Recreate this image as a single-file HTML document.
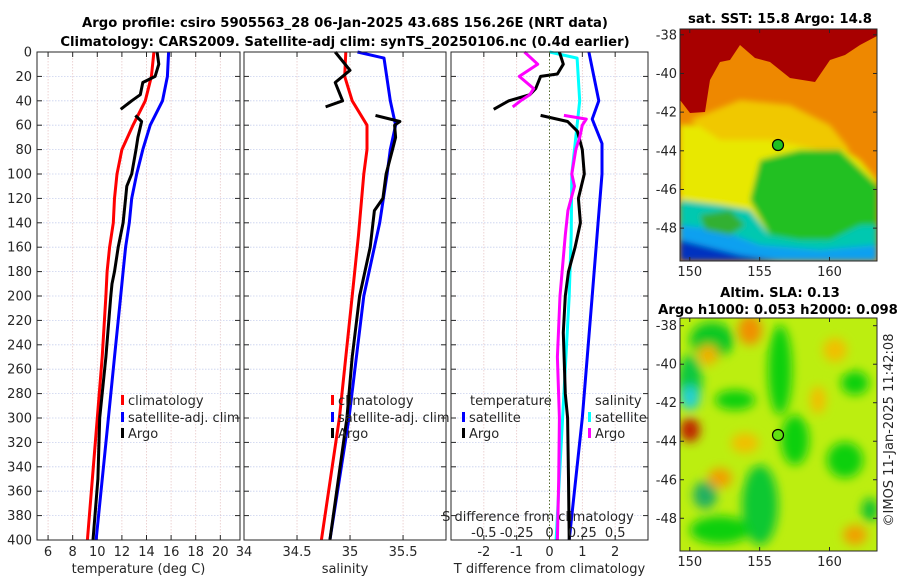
<!DOCTYPE html>
<html><head><meta charset="utf-8"><style>
body{margin:0;background:#fff;}
svg{display:block;font-family:"DejaVu Sans","Liberation Sans",sans-serif;}
.tk{font-size:13px;fill:#262626;}
.tt{font-size:13.2px;font-weight:bold;fill:#000;}
</style></head><body>
<svg id="chart" width="900" height="580" viewBox="0 0 900 580">
<defs>
<filter id="bl" x="-20%" y="-20%" width="140%" height="140%"><feGaussianBlur stdDeviation="3"/></filter>
<filter id="bl2" x="-30%" y="-30%" width="160%" height="160%"><feGaussianBlur stdDeviation="5"/></filter>
<clipPath id="c1"><rect x="680" y="29" width="197" height="232"/></clipPath>
<clipPath id="c2"><rect x="680" y="318" width="197" height="233"/></clipPath>
</defs>
<text class="tt" x="345" y="27" text-anchor="middle">Argo profile: csiro 5905563_28 06-Jan-2025 43.68S 156.26E (NRT data)</text>
<text class="tt" x="345" y="46" text-anchor="middle">Climatology: CARS2009. Satellite-adj clim: synTS_20250106.nc (0.4d earlier)</text>
<g id="panels"></g>
<g id="maps">
 <g clip-path="url(#c1)">
  <rect x="680" y="29" width="197" height="232" fill="#ee8800"/>
  <g filter="url(#bl)">
  <polygon fill="#e8e800" points="680,125 720,125 760,118 800,120 830,140 860,160 877,180 877,261 680,261"/>
  <polygon fill="#f0c800" points="690,120 740,100 790,105 830,125 850,150 820,150 770,140 720,140"/>
  <polygon fill="#20c020" points="760,160 800,150 840,150 877,185 877,230 850,240 810,245 770,235 750,200"/>
  <polygon fill="#00c8b0" points="680,200 720,205 750,210 770,235 800,240 830,240 860,225 877,225 877,261 680,261"/>
  <polygon fill="#10a0f0" points="680,225 720,230 760,245 820,250 877,245 877,261 680,261"/>
  <polygon fill="#0030c0" points="680,240 700,245 740,255 780,261 680,261"/>
  <polygon fill="#30b030" points="700,215 730,210 745,225 730,235 705,230"/>
  </g>
  <polygon fill="#a80000" points="680,29 877,29 877,36 860,45 845,55 830,60 815,82 790,78 770,62 755,58 740,45 730,60 720,62 710,80 705,112 690,113 680,100"/>
 </g>
 <rect x="680" y="29" width="197" height="232" fill="none" stroke="#262626" stroke-width="1"/>
 <circle cx="778" cy="145" r="5.5" fill="#20c020" stroke="#000" stroke-width="1.2"/>
 <g clip-path="url(#c2)">
  <rect x="680" y="318" width="197" height="233" fill="#bcee10"/>
  <g filter="url(#bl2)">
   <ellipse cx="712" cy="340" rx="22" ry="18" fill="#10c820"/>
   <ellipse cx="690" cy="380" rx="12" ry="25" fill="#10c840"/>
   <ellipse cx="690" cy="398" rx="10" ry="12" fill="#20d0d0"/>
   <ellipse cx="690" cy="430" rx="10" ry="12" fill="#c02000"/>
   <ellipse cx="750" cy="330" rx="12" ry="15" fill="#f09000"/>
   <ellipse cx="708" cy="355" rx="10" ry="10" fill="#f0b000"/>
   <ellipse cx="780" cy="370" rx="12" ry="45" fill="#10d010"/>
   <ellipse cx="795" cy="440" rx="14" ry="25" fill="#10d010"/>
   <ellipse cx="760" cy="505" rx="18" ry="40" fill="#10c830"/>
   <ellipse cx="735" cy="400" rx="20" ry="10" fill="#10d010"/>
   <ellipse cx="720" cy="530" rx="30" ry="14" fill="#10d010"/>
   <ellipse cx="705" cy="495" rx="12" ry="14" fill="#20b060"/>
   <ellipse cx="720" cy="478" rx="12" ry="10" fill="#f0a000"/>
   <ellipse cx="745" cy="443" rx="14" ry="10" fill="#f0c000"/>
   <ellipse cx="855" cy="383" rx="14" ry="12" fill="#10d010"/>
   <ellipse cx="845" cy="460" rx="18" ry="18" fill="#10d010"/>
   <ellipse cx="835" cy="350" rx="12" ry="12" fill="#f0c000"/>
   <ellipse cx="855" cy="535" rx="12" ry="10" fill="#f0a000"/>
   <ellipse cx="818" cy="400" rx="8" ry="14" fill="#f0c000"/>
   <ellipse cx="870" cy="510" rx="8" ry="12" fill="#10c030"/>
  </g>
 </g>
 <rect x="680" y="318" width="197" height="233" fill="none" stroke="#262626" stroke-width="1"/>
 <circle cx="778" cy="435" r="5.5" fill="#60e010" stroke="#000" stroke-width="1.2"/>
 <text class="tt" x="780" y="23" text-anchor="middle">sat. SST: 15.8 Argo: 14.8</text>
 <text class="tt" x="780" y="297" text-anchor="middle">Altim. SLA: 0.13</text>
 <text class="tt" x="778" y="314" text-anchor="middle">Argo h1000: 0.053 h2000: 0.098</text>
 <text class="tk" transform="translate(893,430) rotate(-90)" text-anchor="middle">©IMOS 11-Jan-2025 11:42:08</text>
</g>
</svg>
<script>
// ---- data ----
const depthTicks=[0,20,40,60,80,100,120,140,160,180,200,220,240,260,280,300,320,340,360,380,400];
const tTicks=[6,8,10,12,14,16,18,20];
const sTicks=[34,34.5,35,35.5];
const dTTicks=[-2,-1,0,1,2];
const dSTicks=[-0.5,-0.25,0,0.25,0.5];
const dSTickLabels=["-0.5","-0.25","0","0.25","0.5"];
const climDepth=[0,20,40,60,80,100,120,140,160,180,200,250,300,400];
const climT=[14.6,14.4,13.9,12.9,12.0,11.6,11.4,11.3,11.0,10.8,10.7,10.4,10.0,9.2];
const satT=[15.8,15.7,15.3,14.3,13.7,13.2,12.8,12.6,12.3,12.1,11.9,11.4,10.9,9.9];
const argoDepthA=[0,10,20,25,35,40,47];
const argoTA=[14.86,15.0,14.7,13.7,13.5,12.8,11.9];
const argoDepthB=[52,57,70,80,100,110,120,140,160,180,190,200,250,300,350,400];
const argoTB=[13.1,13.6,13.3,13.15,12.8,12.4,12.3,12.1,11.7,11.4,11.2,11.1,10.7,10.2,10.05,9.65];
const climSDepth=[0,20,40,60,80,100,150,200,300,400];
const climS=[34.96,34.95,35.02,35.16,35.16,35.13,35.08,35.02,34.9,34.73];
const satSDepth=[0,5,40,60,80,100,140,200,300,400];
const satS=[35.07,35.32,35.38,35.43,35.38,35.35,35.28,35.13,34.99,34.81];
const argoSA=[34.86,35.0,34.86,34.93,34.77];
const argoSDepthA=[0,15,25,40,45];
const argoSB=[35.24,35.47,35.42,35.43,35.4,35.34,35.31,35.23,35.19,35.09,35.02,34.97,34.81];
const argoSDepthB=[52,57,60,70,80,100,120,130,160,200,250,300,400];
const dSatTDepth=[0,40,55,75,100,150,200,300,400];
const dSatT=[1.2,1.5,1.3,1.6,1.6,1.45,1.3,1.0,0.6];
const dSatSDepth=[0,5,40,70,100,150,200,300,400];
const dSatS=[0,0.21,0.23,0.2,0.17,0.165,0.15,0.1,0.05];
const dArgoTDepthA=[0,10,18,20,30,35,40,47];
const dArgoTA=[0.3,0.42,0.24,-0.27,-0.42,-0.6,-1.24,-1.7];
const dArgoTDepthB=[52,57,65,80,100,120,140,160,180,200,230,280,300,350,400];
const dArgoTB=[-0.27,0.55,0.85,1.0,1.06,0.88,0.94,0.78,0.58,0.48,0.42,0.48,0.55,0.58,0.6];
const dArgoSDepthA=[0,10,20,30,35,40,45];
const dArgoSA=[-0.19,-0.09,-0.23,-0.12,-0.15,-0.22,-0.28];
const dArgoSDepthB=[52,55,60,70,80,100,110,130,150,200,250,300,350,400];
const dArgoSB=[0.11,0.28,0.25,0.23,0.2,0.17,0.19,0.14,0.12,0.08,0.06,0.075,0.07,0.06];
const latTicks=[-38,-40,-42,-44,-46,-48];
const lonTicks=[150,155,160];

// ---- helpers ----
const NS='http://www.w3.org/2000/svg';
const root=document.getElementById('panels');
const maps=document.getElementById('maps');
function mk(tag,attrs,parent){const e=document.createElementNS(NS,tag);for(const k in attrs)e.setAttribute(k,attrs[k]);(parent||root).appendChild(e);return e;}
const Y0=52,Y1=540;
const yD=d=>Y0+(Y1-Y0)*d/400;
function lin(d0,d1,r0,r1){return v=>r0+(v-d0)*(r1-r0)/(d1-d0);}
const panels=[
 {x0:37,x1:240,sx:lin(5.1,21.6,37,240),ticks:tTicks,labels:tTicks.map(String),title:'temperature (deg C)',name:'temperature'},
 {x0:244,x1:446,sx:lin(34,35.905,244,446),ticks:sTicks,labels:sTicks.map(String),title:'salinity',name:'salinity'},
 {x0:451,x1:648,sx:lin(-3,3,451,648),ticks:dTTicks,labels:dTTicks.map(String),title:'T difference from climatology',name:'difference'}
];
panels.forEach((p,pi)=>{
 const g=mk('g',{});
 
 
 depthTicks.forEach(d=>{
  const l=mk('line',{x1:p.x0,x2:p.x1,y1:yD(d),y2:yD(d),stroke:'#c8d0ee','stroke-width':0.8,'stroke-dasharray':'1.5,1.5'},g);
  
  
  mk('line',{x1:p.x0,x2:p.x0+5,y1:yD(d),y2:yD(d),stroke:'#262626'},g);
  mk('line',{x1:p.x1,x2:p.x1-5,y1:yD(d),y2:yD(d),stroke:'#262626'},g);
 });
 p.ticks.forEach((t,i)=>{
  const x=p.sx(t);
  if(!(pi===2&&t===0)){const l=mk('line',{x1:x,x2:x,y1:Y0,y2:Y1,stroke:'#e8c8c8','stroke-width':0.8,'stroke-dasharray':'1.5,1.5'},g);
  
  }
  mk('line',{x1:x,x2:x,y1:Y0,y2:Y0+5,stroke:'#262626'},g);
  mk('line',{x1:x,x2:x,y1:Y1,y2:Y1-5,stroke:'#262626'},g);
  const tx=mk('text',{x:x,y:556,'text-anchor':'middle',class:'tk'},g);
  tx.textContent=p.labels[i];
  
  
 });
 const tl=mk('text',{x:(p.x0+p.x1)/2,y:573,'text-anchor':'middle',class:'tk'},g);
 tl.textContent=p.title;
 
 
 p.g=g;
});
depthTicks.forEach(d=>{
 const t=mk('text',{x:32,y:yD(d)+4.5,'text-anchor':'end',class:'tk'});
 t.textContent=d;
 
 
});
const zx=panels[2].sx(0);
const zl=mk('line',{x1:zx,x2:zx,y1:Y0,y2:Y1,stroke:'#556b2f','stroke-width':1,'stroke-dasharray':'1.5,2'});



function series(p,vals,deps,color,name){
 const d=vals.map((v,i)=>(i?'L':'M')+p.sx(v).toFixed(1)+','+yD(deps[i]).toFixed(1)).join('');
 const e=mk('path',{d:d,fill:'none',stroke:color,'stroke-width':3,'stroke-linejoin':'round'},p.g);
 
 
}
const P1=panels[0],P2=panels[1],P3=panels[2];
series(P1,climT,climDepth,'#ff0000','climatology-temperature-line');
series(P1,satT,climDepth,'#0000ff','satellite-temperature-line');
series(P1,argoTA,argoDepthA,'#000','argo-temperature-line-upper');
series(P1,argoTB,argoDepthB,'#000','argo-temperature-line');
series(P2,climS,climSDepth,'#ff0000','climatology-salinity-line');
series(P2,satS,satSDepth,'#0000ff','satellite-salinity-line');
series(P2,argoSA,argoSDepthA,'#000','argo-salinity-line-upper');
series(P2,argoSB,argoSDepthB,'#000','argo-salinity-line');
const P3S={sx:lin(-0.75,0.75,451,648),g:P3.g};
series(P3,dSatT,dSatTDepth,'#0000ff','satellite-temperature-diff-line');
series(P3S,dSatS,dSatSDepth,'#00ffff','satellite-salinity-diff-line');
series(P3,dArgoTA,dArgoTDepthA,'#000','argo-temperature-diff-line-upper');
series(P3,dArgoTB,dArgoTDepthB,'#000','argo-temperature-diff-line');
series(P3S,dArgoSA,dArgoSDepthA,'#ff00ff','argo-salinity-diff-line-upper');
series(P3S,dArgoSB,dArgoSDepthB,'#ff00ff','argo-salinity-diff-line');
panels.forEach(p=>{const r=mk('rect',{x:p.x0,y:Y0,width:p.x1-p.x0,height:Y1-Y0,fill:'none',stroke:'#262626','stroke-width':1},p.g);
 
 });
const sl=mk('text',{x:538,y:521,'text-anchor':'middle',class:'tk'},P3.g);
sl.textContent='S difference from climatology';


dSTicks.forEach((t,i)=>{const e=mk('text',{x:P3S.sx(t),y:537,'text-anchor':'middle',class:'tk'},P3.g);
 e.textContent=dSTickLabels[i];
 
 });
function legend(x,y,color,label,g){
 const m=mk('rect',{x:x,y:y-10,width:3,height:10,fill:color},g);
 
 
 const t=mk('text',{x:x+7,y:y,class:'tk'},g);
 t.textContent=label;
 
 
}
legend(121,405,'#ff0000','climatology',P1.g);
legend(121,422,'#0000ff','satellite-adj. clim',P1.g);
legend(121,438,'#000','Argo',P1.g);
legend(331,405,'#ff0000','climatology',P2.g);
legend(331,422,'#0000ff','satellite-adj. clim',P2.g);
legend(331,438,'#000','Argo',P2.g);
const lt=mk('text',{x:470,y:405,class:'tk'},P3.g);lt.textContent='temperature';


const ls=mk('text',{x:595,y:405,class:'tk'},P3.g);ls.textContent='salinity';


legend(462,422,'#0000ff','satellite',P3.g);
legend(462,438,'#000','Argo',P3.g);
legend(588,422,'#00ffff','satellite',P3.g);
legend(588,438,'#ff00ff','Argo',P3.g);
const lonX=lin(149.3,163.4,680,877);
[[29,261,lin(-37.7,-49.7,29,261),276],[318,551,lin(-37.6,-49.7,318,551),566]].forEach(([t,b,ly,ty])=>{
 latTicks.forEach(v=>{const y=ly(v);
  mk('line',{x1:680,x2:684,y1:y,y2:y,stroke:'#262626'},maps);
  mk('line',{x1:877,x2:873,y1:y,y2:y,stroke:'#262626'},maps);
  const e=mk('text',{x:677,y:y+4.5,'text-anchor':'end',class:'tk'},maps);e.textContent=v;
  
  });
 lonTicks.forEach(v=>{const x=lonX(v);
  mk('line',{x1:x,x2:x,y1:b,y2:b-4,stroke:'#262626'},maps);
  mk('line',{x1:x,x2:x,y1:t,y2:t+4,stroke:'#262626'},maps);
  const e=mk('text',{x:x,y:ty,'text-anchor':'middle',class:'tk'},maps);e.textContent=v;
  
  });
});
</script>
</body></html>
